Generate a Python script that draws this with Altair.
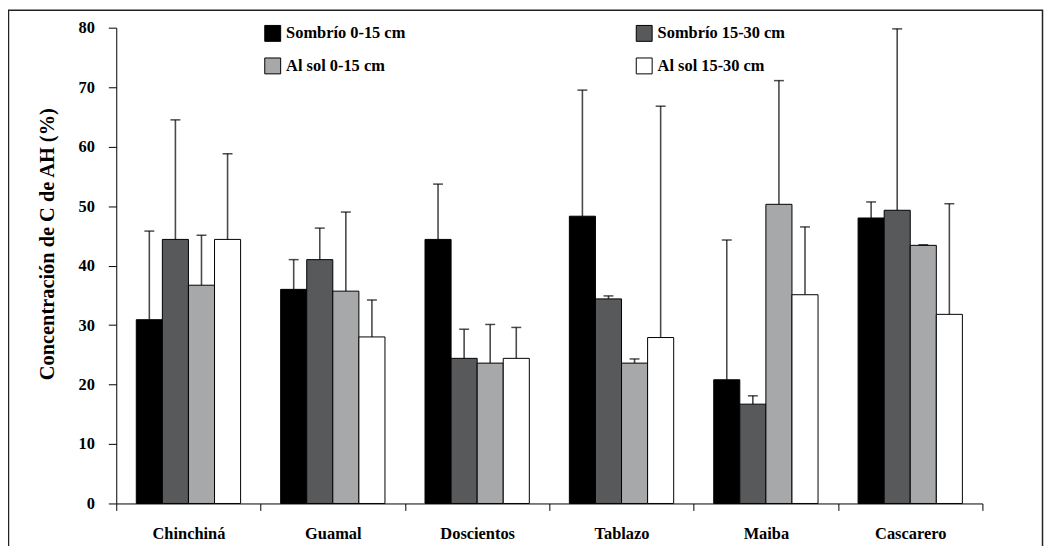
import altair as alt
import pandas as pd

sites = ["Chinchiná", "Guamal", "Doscientos", "Tablazo", "Maiba", "Cascarero"]
series = ["Sombrío 0-15 cm", "Sombrío 15-30 cm", "Al sol 0-15 cm", "Al sol 15-30 cm"]
fill_colors = ["#000000", "#58595b", "#a7a8aa", "#ffffff"]

sombrio_0_15 = [30.9, 36.0, 44.4, 48.3, 20.8, 48.0]
sombrio_0_15_up = [45.8, 41.0, 53.7, 69.5, 44.3, 50.7]
sombrio_15_30 = [44.4, 41.0, 24.4, 34.4, 16.7, 49.3]
sombrio_15_30_up = [64.5, 46.3, 29.3, 34.9, 18.1, 79.8]
sol_0_15 = [36.7, 35.7, 23.6, 23.6, 50.3, 43.4]
sol_0_15_up = [45.1, 49.0, 30.1, 24.3, 71.1, 43.5]
sol_15_30 = [44.4, 28.0, 24.4, 27.9, 35.1, 31.8]
sol_15_30_up = [58.8, 34.2, 29.6, 66.8, 46.5, 50.4]

y_ticks = [0, 10, 20, 30, 40, 50, 60, 70, 80]

values = [sombrio_0_15, sombrio_15_30, sol_0_15, sol_15_30]
uppers = [sombrio_0_15_up, sombrio_15_30_up, sol_0_15_up, sol_15_30_up]

rows = []
for s, vals, ups in zip(series, values, uppers):
    for site, v, u in zip(sites, vals, ups):
        rows.append({"site": site, "serie": s, "valor": v, "sup": u})
df = pd.DataFrame(rows)

FONT = "Liberation Serif"

x_enc = alt.X(
    "site:N",
    sort=sites,
    scale=alt.Scale(paddingInner=0, paddingOuter=0),
    axis=alt.Axis(
        title=None,
        labelAngle=0,
        tickBand="extent",
        tickSize=7,
        labelPadding=28,
        labelAlign="center",
        labelBaseline="alphabetic",
        labelFont=FONT,
        labelFontSize=16.5,
        labelFontWeight="bold",
        labelColor="black",
        domainColor="black",
        tickColor="black",
    ),
)
xoff_enc = alt.XOffset(
    "serie:N", sort=series, scale=alt.Scale(paddingInner=0, paddingOuter=0.768)
)
y_scale = alt.Scale(domain=[0, 80], nice=False)

base = alt.Chart(df)

bars = base.mark_bar(stroke="black", strokeWidth=1).encode(
    x=x_enc,
    xOffset=xoff_enc,
    y=alt.Y(
        "valor:Q",
        scale=y_scale,
        axis=alt.Axis(
            title="Concentración de C de AH (%)",
            values=y_ticks,
            grid=False,
            tickSize=8,
            labelPadding=14,
            labelFont=FONT,
            labelFontSize=16.5,
            labelFontWeight="bold",
            labelColor="black",
            titleFont=FONT,
            titleFontSize=20.5,
            titleFontWeight="bold",
            titleColor="black",
            titleAngle=270,
            titleAlign="center",
            titleBaseline="alphabetic",
            titleX=-63,
            titleY=217.5,
            domainColor="black",
            tickColor="black",
        ),
    ),
    fill=alt.Fill(
        "serie:N",
        sort=series,
        scale=alt.Scale(domain=series, range=fill_colors),
        legend=alt.Legend(
            title=None,
            orient="none",
            direction="horizontal",
            legendX=149,
            legendY=-3,
            columns=2,
            columnPadding=229,
            rowPadding=12,
            padding=0,
            symbolType="square",
            symbolSize=256,
            symbolStrokeColor="black",
            symbolStrokeWidth=1,
            labelFont=FONT,
            labelFontSize=16.5,
            labelFontWeight="bold",
            labelColor="black",
            labelOffset=5,
            labelLimit=400,
        ),
    ),
)

err = base.mark_rule(color="#4a4a4a", strokeWidth=1.6).encode(
    x=alt.X("site:N", sort=sites),
    xOffset=alt.XOffset("serie:N", sort=series),
    y=alt.Y("valor:Q", scale=y_scale),
    y2="sup:Q",
)

caps = base.mark_tick(color="black", thickness=1.5, size=10, orient="horizontal").encode(
    x=alt.X("site:N", sort=sites),
    xOffset=alt.XOffset("serie:N", sort=series),
    y=alt.Y("sup:Q", scale=y_scale),
)

frame = alt.Chart(pd.DataFrame({"a": [0]})).mark_rect(
    fill="transparent", stroke="#222222", strokeWidth=1.5
).encode(
    x=alt.value(-108.5), x2=alt.value(932.5), y=alt.value(-17.5), y2=alt.value(540)
)

chart = (
    alt.layer(frame, err, bars, caps)
    .properties(
        width=872,
        height=479,
        autosize=alt.AutoSizeParams(type="none"),
        padding={"left": 109, "top": 18, "right": 62, "bottom": 41},
        background="white",
    )
    .configure_view(stroke=None)
)

chart.save("out.html", embed_options={"renderer": "svg", "actions": False})
